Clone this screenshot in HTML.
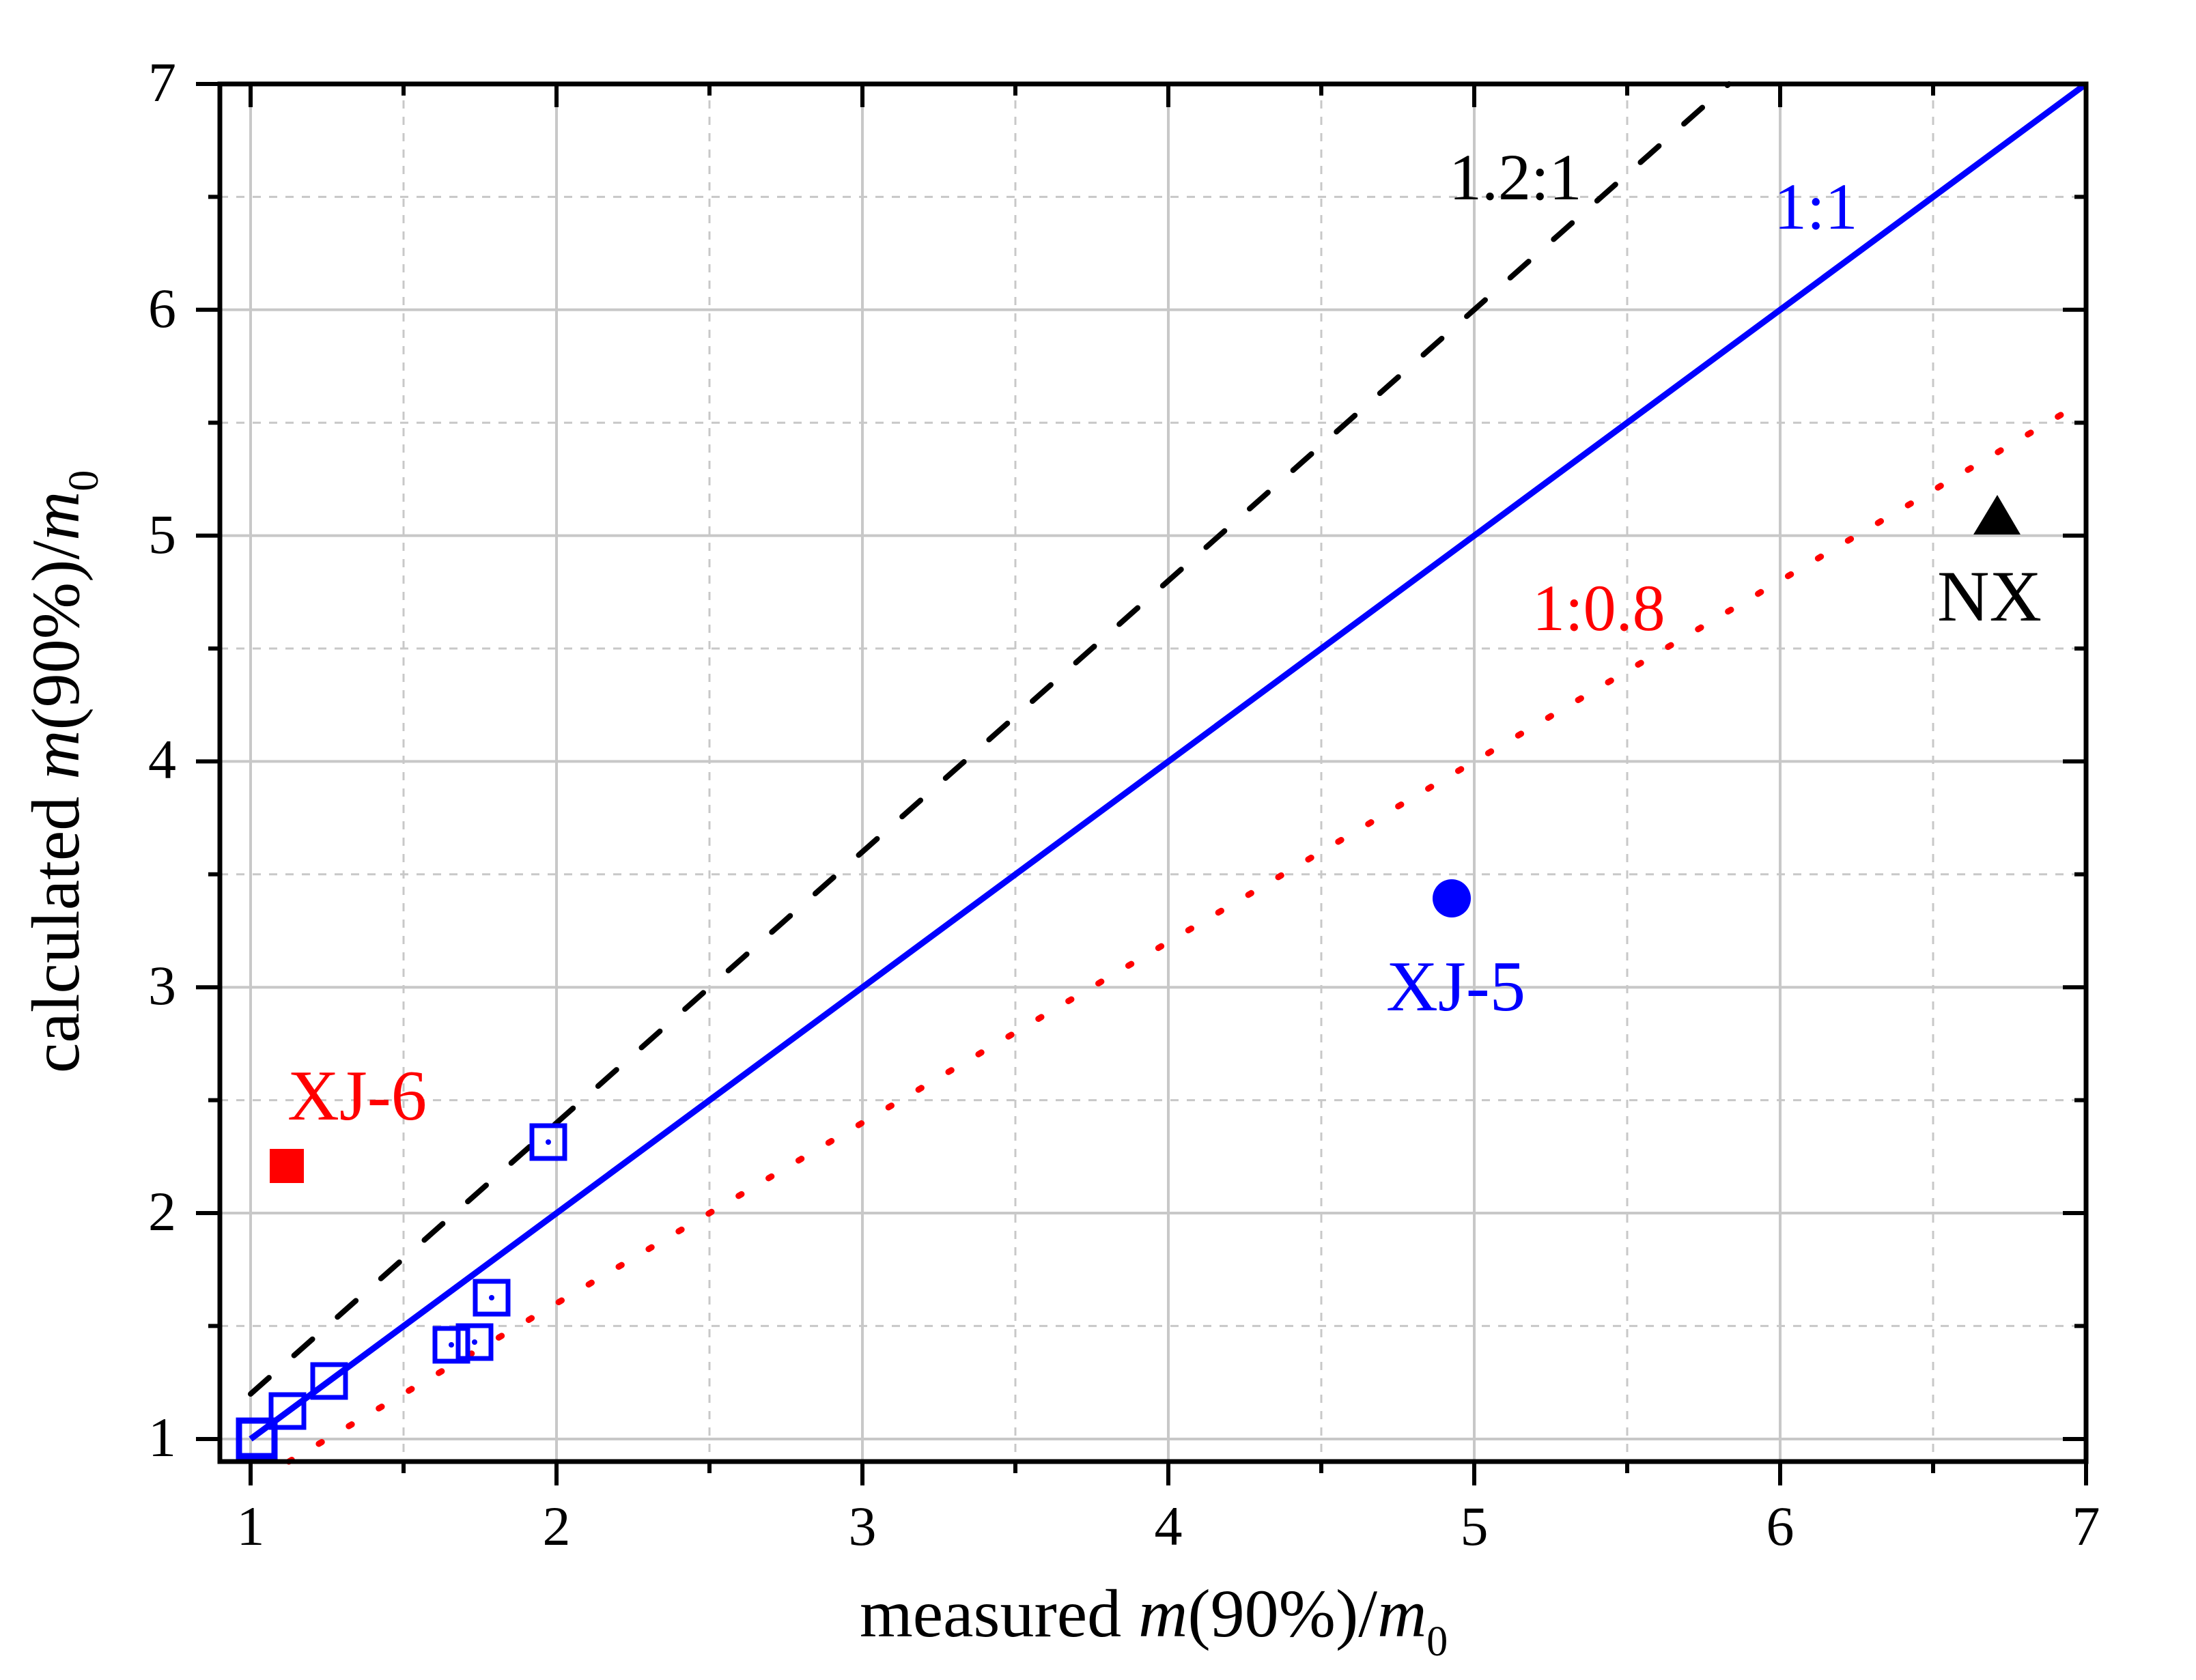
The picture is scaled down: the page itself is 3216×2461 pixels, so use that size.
<!DOCTYPE html>
<html><head><meta charset="utf-8"><style>html,body{margin:0;padding:0;background:#fff}svg{display:block}</style></head>
<body>
<svg width="3216" height="2461" viewBox="0 0 3216 2461" xmlns="http://www.w3.org/2000/svg" font-family="'Liberation Serif', serif">
<rect width="3216" height="2461" fill="#fff"/>
<g stroke="#c8c8c8" stroke-width="3" stroke-dasharray="12 12">
<line x1="591" y1="123" x2="591" y2="2141"/><line x1="1039" y1="123" x2="1039" y2="2141"/><line x1="1487" y1="123" x2="1487" y2="2141"/><line x1="1935" y1="123" x2="1935" y2="2141"/><line x1="2383" y1="123" x2="2383" y2="2141"/><line x1="2831" y1="123" x2="2831" y2="2141"/>
<line x1="322" y1="288.4" x2="3055" y2="288.4"/><line x1="322" y1="619.2" x2="3055" y2="619.2"/><line x1="322" y1="950" x2="3055" y2="950"/><line x1="322" y1="1280.8" x2="3055" y2="1280.8"/><line x1="322" y1="1611.6" x2="3055" y2="1611.6"/><line x1="322" y1="1942.4" x2="3055" y2="1942.4"/>
</g>
<g stroke="#c8c8c8" stroke-width="4">
<line x1="367" y1="123" x2="367" y2="2141"/><line x1="815" y1="123" x2="815" y2="2141"/><line x1="1263" y1="123" x2="1263" y2="2141"/><line x1="1711" y1="123" x2="1711" y2="2141"/><line x1="2159" y1="123" x2="2159" y2="2141"/><line x1="2607" y1="123" x2="2607" y2="2141"/>
<line x1="322" y1="453.8" x2="3055" y2="453.8"/><line x1="322" y1="784.6" x2="3055" y2="784.6"/><line x1="322" y1="1115.4" x2="3055" y2="1115.4"/><line x1="322" y1="1446.2" x2="3055" y2="1446.2"/><line x1="322" y1="1777" x2="3055" y2="1777"/><line x1="322" y1="2108" x2="3055" y2="2108"/>
</g>
<line x1="423" y1="2141" x2="3055" y2="586" stroke="#ff0000" stroke-width="9" stroke-linecap="round" stroke-dasharray="5 46"/>
<line x1="367" y1="2042" x2="2532" y2="123" stroke="#000" stroke-width="8" stroke-linecap="round" stroke-dasharray="36 49"/>
<line x1="367" y1="2108" x2="3055" y2="123" stroke="#0000ff" stroke-width="9"/>
<g fill="none" stroke="#0000ff" stroke-width="7">
<rect x="779" y="1649" width="48" height="48"/>
<rect x="696" y="1877" width="48" height="48"/>
<rect x="671" y="1942" width="48" height="48"/>
<rect x="637" y="1946" width="48" height="48"/>
<rect x="458" y="1999" width="48" height="48"/>
<rect x="397" y="2043" width="48" height="48"/>
<rect x="350" y="2081" width="52" height="52" stroke-width="9"/>
</g>
<g fill="#0000ff">
<circle cx="803" cy="1673" r="4"/><circle cx="720" cy="1901" r="4"/><circle cx="695" cy="1966" r="4"/><circle cx="661" cy="1970" r="4"/>
<circle cx="2126" cy="1316" r="28"/>
</g>
<rect x="395" y="1683" width="50" height="50" fill="#ff0000"/>
<polygon points="2925,725 2890,783 2959,783" fill="#000"/>
<g stroke="#000" stroke-width="7" fill="none">
<rect x="322" y="123" width="2733" height="2018"/>
</g>
<g stroke="#000" stroke-width="6">
<line x1="367" y1="2141" x2="367" y2="2176"/><line x1="815" y1="2141" x2="815" y2="2176"/><line x1="1263" y1="2141" x2="1263" y2="2176"/><line x1="1711" y1="2141" x2="1711" y2="2176"/><line x1="2159" y1="2141" x2="2159" y2="2176"/><line x1="2607" y1="2141" x2="2607" y2="2176"/><line x1="3055" y1="2141" x2="3055" y2="2176"/>
<line x1="591" y1="2141" x2="591" y2="2158"/><line x1="1039" y1="2141" x2="1039" y2="2158"/><line x1="1487" y1="2141" x2="1487" y2="2158"/><line x1="1935" y1="2141" x2="1935" y2="2158"/><line x1="2383" y1="2141" x2="2383" y2="2158"/><line x1="2831" y1="2141" x2="2831" y2="2158"/>
<line x1="367" y1="123" x2="367" y2="157"/><line x1="815" y1="123" x2="815" y2="157"/><line x1="1263" y1="123" x2="1263" y2="157"/><line x1="1711" y1="123" x2="1711" y2="157"/><line x1="2159" y1="123" x2="2159" y2="157"/><line x1="2607" y1="123" x2="2607" y2="157"/>
<line x1="591" y1="123" x2="591" y2="140"/><line x1="1039" y1="123" x2="1039" y2="140"/><line x1="1487" y1="123" x2="1487" y2="140"/><line x1="1935" y1="123" x2="1935" y2="140"/><line x1="2383" y1="123" x2="2383" y2="140"/><line x1="2831" y1="123" x2="2831" y2="140"/>
<line x1="287" y1="123" x2="322" y2="123"/><line x1="287" y1="453.8" x2="322" y2="453.8"/><line x1="287" y1="784.6" x2="322" y2="784.6"/><line x1="287" y1="1115.4" x2="322" y2="1115.4"/><line x1="287" y1="1446.2" x2="322" y2="1446.2"/><line x1="287" y1="1777" x2="322" y2="1777"/><line x1="287" y1="2108" x2="322" y2="2108"/>
<line x1="305" y1="288.4" x2="322" y2="288.4"/><line x1="305" y1="619.2" x2="322" y2="619.2"/><line x1="305" y1="950" x2="322" y2="950"/><line x1="305" y1="1280.8" x2="322" y2="1280.8"/><line x1="305" y1="1611.6" x2="322" y2="1611.6"/><line x1="305" y1="1942.4" x2="322" y2="1942.4"/>
<line x1="3021" y1="453.8" x2="3055" y2="453.8"/><line x1="3021" y1="784.6" x2="3055" y2="784.6"/><line x1="3021" y1="1115.4" x2="3055" y2="1115.4"/><line x1="3021" y1="1446.2" x2="3055" y2="1446.2"/><line x1="3021" y1="1777" x2="3055" y2="1777"/><line x1="3021" y1="2108" x2="3055" y2="2108"/>
<line x1="3038" y1="288.4" x2="3055" y2="288.4"/><line x1="3038" y1="619.2" x2="3055" y2="619.2"/><line x1="3038" y1="950" x2="3055" y2="950"/><line x1="3038" y1="1280.8" x2="3055" y2="1280.8"/><line x1="3038" y1="1611.6" x2="3055" y2="1611.6"/><line x1="3038" y1="1942.4" x2="3055" y2="1942.4"/>
</g>
<g font-size="82" fill="#000" text-anchor="middle">
<text x="367" y="2263">1</text><text x="815" y="2263">2</text><text x="1263" y="2263">3</text><text x="1711" y="2263">4</text><text x="2159" y="2263">5</text><text x="2607" y="2263">6</text><text x="3055" y="2263">7</text>
</g>
<g font-size="82" fill="#000" text-anchor="end">
<text x="258" y="148">7</text><text x="258" y="479">6</text><text x="258" y="810">5</text><text x="258" y="1140">4</text><text x="258" y="1471">3</text><text x="258" y="1802">2</text><text x="258" y="2133">1</text>
</g>
<text x="1259" y="2397" font-size="100" fill="#000">measured <tspan font-style="italic">m</tspan>(90%)/<tspan font-style="italic">m</tspan><tspan font-size="62" dy="28">0</tspan></text>
<text transform="translate(115,1572) rotate(-90)" font-size="100" fill="#000">calculated <tspan font-style="italic">m</tspan>(90%)/<tspan font-style="italic">m</tspan><tspan font-size="62" dy="28">0</tspan></text>
<text x="2122" y="292" font-size="96" fill="#000">1.2:1</text>
<text x="2598" y="335" font-size="96" fill="#0000ff">1:1</text>
<text x="2244" y="923" font-size="96" fill="#ff0000">1:0.8</text>
<text x="2837" y="909" font-size="106" fill="#000">NX</text>
<text x="2030" y="1480" font-size="105" fill="#0000ff">XJ-5</text>
<text x="421" y="1640" font-size="105" fill="#ff0000">XJ-6</text>
</svg>
</body></html>
